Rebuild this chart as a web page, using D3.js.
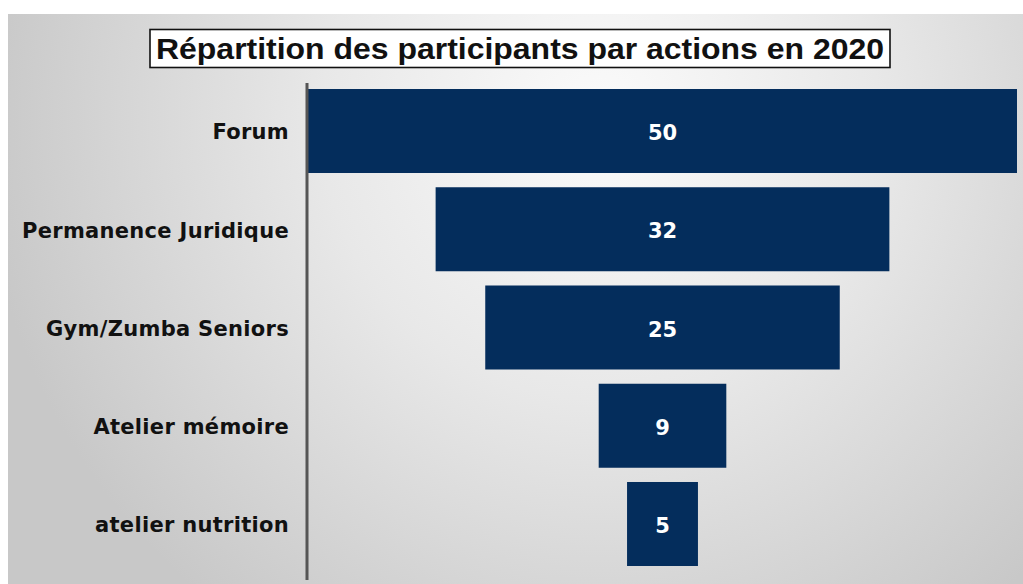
<!DOCTYPE html>
<html><head><meta charset="utf-8">
<script src="https://cdn.jsdelivr.net/npm/d3@7"></script>
<style>html,body{margin:0;padding:0;background:#fff;}svg{display:block;}</style>
</head><body>
<svg id="c" width="1023" height="584"></svg>
<script>
const categories = ["Forum","Permanence Juridique","Gym/Zumba Seniors","Atelier mémoire","atelier nutrition"];
const values = [50,32,25,9,5];
const title = "Répartition des participants par actions en 2020";

const W=1023,H=584;
const svg=d3.select("#c");
const defs=svg.append("defs");
const g=defs.append("radialGradient").attr("id","bg").attr("gradientUnits","userSpaceOnUse")
  .attr("cx",600).attr("cy",120).attr("r",620).attr("fx",600).attr("fy",120);
g.append("stop").attr("offset","0").attr("stop-color","#fbfbfb");
g.append("stop").attr("offset","0.45").attr("stop-color","#e8e8e8");
g.append("stop").attr("offset","1").attr("stop-color","#c8c8c8");
svg.append("rect").attr("x",8).attr("y",14).attr("width",W-8).attr("height",H-14).attr("fill","url(#bg)");

const cx=662.5, maxW=709;
const x=d3.scaleLinear().domain([0,50]).range([0,maxW]);
const y=d3.scaleBand().domain(categories).range([89,566]).paddingInner(0.145).paddingOuter(0);

svg.append("g").selectAll("rect").data(values).join("rect")
  .attr("x",(d)=>cx-x(d)/2).attr("width",d=>x(d))
  .attr("y",(d,i)=>y(categories[i])).attr("height",y.bandwidth())
  .attr("fill","#042d5c");

svg.append("g").selectAll("text").data(values).join("text")
  .attr("x",cx).attr("y",(d,i)=>y(categories[i])+y.bandwidth()/2+9)
  .attr("text-anchor","middle").attr("fill","#fff")
  .style("font","bold 21px 'DejaVu Sans', sans-serif").text(d=>d);

const axis=d3.axisLeft(y).tickSize(0).tickPadding(18);
const ag=svg.append("g").attr("transform","translate(307,0)").call(axis);
ag.select(".domain").attr("stroke","#555").attr("stroke-width",3).attr("d","M0,83V580");
ag.selectAll("text").attr("fill","#111").attr("dy","0.4em")
  .style("font","bold 21px 'DejaVu Sans', sans-serif").style("letter-spacing","0.3px");

// title
svg.append("rect").attr("x",150).attr("y",29.5).attr("width",740).attr("height",38)
  .attr("fill","#fff").attr("stroke","#111").attr("stroke-width",1.6);
svg.append("text").attr("x",520).attr("y",59).attr("text-anchor","middle")
  .attr("textLength",728).attr("lengthAdjust","spacingAndGlyphs")
  .style("font","bold 30px 'Liberation Sans Narrow','Liberation Sans', sans-serif").attr("fill","#111").text(title);
</script>
</body></html>
